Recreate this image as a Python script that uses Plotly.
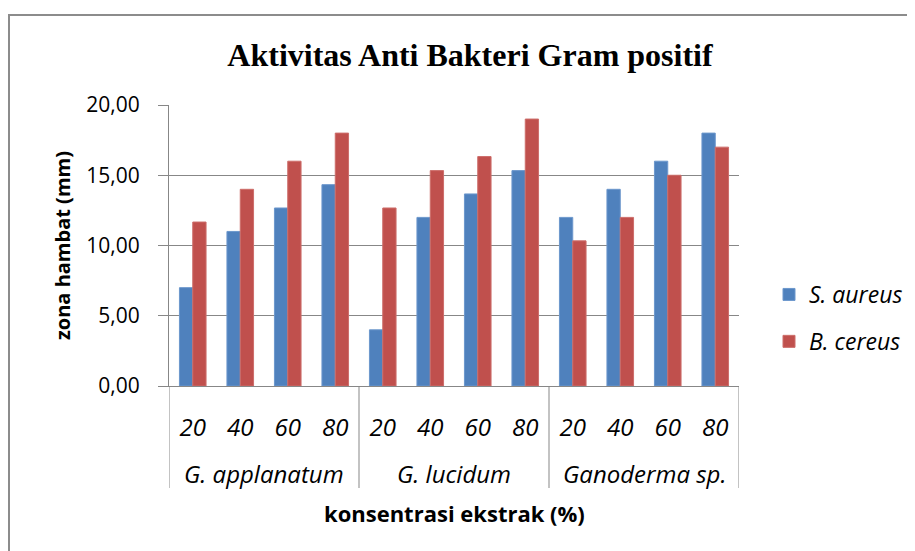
import plotly.graph_objects as go

groups = ["G. applanatum", "G. lucidum", "Ganoderma sp."]
concentrations = ["20", "40", "60", "80"]
s_aureus = [7.00, 11.00, 12.67, 14.33, 4.00, 12.00, 13.67, 15.33, 12.00, 14.00, 16.00, 18.00]
b_cereus = [11.67, 14.00, 16.00, 18.00, 12.67, 15.33, 16.33, 19.00, 10.33, 12.00, 15.00, 17.00]

n_per = len(concentrations)
xpos = list(range(len(groups) * n_per))
tick_text = [c for _ in groups for c in concentrations]

# page is offset 8px by the body margin: work in figure pixel coordinates
W, H = 915, 551
L, T = 161, 97
plot_right, plot_bottom = 731, 378
R, B = W - plot_right, H - plot_bottom
pw, ph = plot_right - L, plot_bottom - T

grid = "#878787"
font_main = "Open Sans"

fig = go.Figure()
fig.add_trace(go.Bar(x=xpos, y=s_aureus, name="S. aureus", marker_color="#4F81BD",
                     marker_line=dict(color="#6C97CC", width=1), legendgroup="a"))
fig.add_trace(go.Bar(x=xpos, y=b_cereus, name="B. cereus", marker_color="#C0504D",
                     marker_line=dict(color="#CD6D6A", width=1), legendgroup="b"))

fig.update_layout(
    width=W, height=H,
    margin=dict(l=L, r=R, t=T, b=B, autoexpand=False),
    paper_bgcolor="white", plot_bgcolor="white",
    separators=",.",
    barmode="group", bargap=0.44, bargroupgap=0,
    title=dict(text="<b>Aktivitas Anti Bakteri Gram positif</b>",
               font=dict(family="Liberation Serif", size=32, color="black"),
               x=462 / W, xref="container", xanchor="center",
               y=1 - 47 / H, yref="container", yanchor="middle"),
    legend=dict(x=(761 - L) / pw, xanchor="left", y=(plot_bottom - 310) / ph, yanchor="middle",
                font=dict(family=font_main, size=23, color="black", style="italic"),
                tracegroupgap=14, traceorder="grouped", itemwidth=30,
                bgcolor="rgba(0,0,0,0)"),
    showlegend=True,
)
fig.update_yaxes(range=[0, 20], dtick=5, tickformat=".2f",
                 showgrid=True, gridcolor=grid, gridwidth=1,
                 showline=True, linecolor=grid, linewidth=1,
                 ticks="outside", ticklen=10, tickcolor=grid, ticklabelstandoff=14,
                 tickfont=dict(family=font_main, size=21, color="black"),
                 title=dict(text="<b>zona hambat (mm)</b>", standoff=10,
                            font=dict(family=font_main, size=20, color="black")),
                 zeroline=False)
fig.update_xaxes(range=[-0.5, len(xpos) - 0.5], tickmode="array", tickvals=xpos, ticktext=tick_text,
                 showline=True, linecolor=grid, linewidth=1, showgrid=False, zeroline=False,
                 ticks="", ticklabelstandoff=20,
                 tickfont=dict(family=font_main, size=24, color="black", style="italic"))

# group dividers below the axis
for k in range(len(groups) + 1):
    xd = k * n_per - 0.5
    fig.add_shape(type="line", xref="x", yref="paper", x0=xd, x1=xd, y0=0, y1=-102 / ph,
                  line=dict(color=grid, width=1))

# group labels
for k, g in enumerate(groups):
    xc = sum(xpos[k * n_per:(k + 1) * n_per]) / n_per
    fig.add_annotation(text=g, xref="x", yref="paper", x=xc, y=0, yanchor="middle",
                       yshift=-87, showarrow=False,
                       font=dict(family=font_main, size=24, color="black", style="italic"))

# x axis title
fig.add_annotation(text="<b>konsentrasi ekstrak (%)</b>", xref="paper", yref="paper",
                   x=0.5, y=0, yanchor="middle", yshift=-127, showarrow=False,
                   font=dict(family=font_main, size=22, color="black"))

# outer chart border (right/bottom edges fall outside the view)
fig.add_shape(type="rect", xref="paper", yref="paper",
              x0=(1 - L) / pw, x1=(930 - L) / pw,
              y0=(plot_bottom - 570) / ph, y1=(plot_bottom - 7) / ph,
              line=dict(color="#8C8C8C", width=2), fillcolor="rgba(0,0,0,0)", layer="below")

fig.write_html("out.html")
